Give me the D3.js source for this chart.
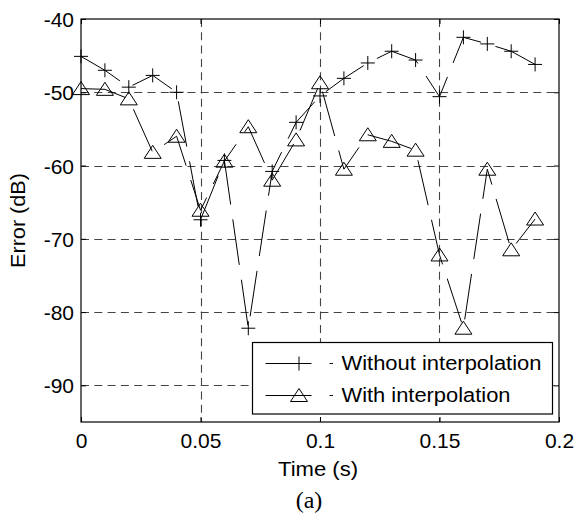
<!DOCTYPE html>
<html><head><meta charset="utf-8">
<script src="https://cdn.jsdelivr.net/npm/d3@7"></script>
<style>body{margin:0;background:#fff}svg{display:block}</style>
</head><body>
<script>
const times = [0,0.01,0.02,0.03,0.04,0.05,0.06,0.07,0.08,0.09,0.10,0.11,0.12,0.13,0.14,0.15,0.16,0.17,0.18,0.19];
const withoutInterp = [-45.1,-47.0,-49.3,-47.7,-50.0,-67.4,-59.3,-82.2,-60.8,-54.1,-50.5,-48.1,-46.0,-44.4,-45.6,-50.6,-42.5,-43.4,-44.4,-46.2];
const withInterp = [-49.5,-49.6,-50.9,-58.2,-56.0,-66.1,-59.4,-54.7,-62.0,-56.5,-48.7,-60.5,-55.8,-56.7,-57.9,-72.2,-82.2,-60.5,-71.5,-67.3];
const xTicks = [0,0.05,0.1,0.15,0.2];
const yTicks = [-40,-50,-60,-70,-80,-90];
const seriesNames = ["Without interpolation","With interpolation"];

const W=576,H=521;
const m={l:81,r:559,t:19,b:422};
const svg=d3.select("body").append("svg").attr("width",W).attr("height",H);
const x=d3.scaleLinear().domain([0,0.2]).range([m.l,m.r]);
const y=d3.scaleLinear().domain([-95,-40]).range([m.b,m.t]);
const font="'Liberation Sans', Arial, sans-serif";
const px=v=>Math.round(v)+0.5;

// grid
const g=svg.append("g");
g.selectAll("line.gx").data(xTicks.filter(d=>d>0&&d<0.2)).enter().append("line").attr("class","gx")
 .attr("x1",d=>px(x(d))).attr("x2",d=>px(x(d))).attr("y1",m.t).attr("y2",m.b)
 .attr("stroke","#444").attr("stroke-width",1.1).attr("stroke-dasharray","8,5.3");
g.selectAll("line.gy").data(yTicks.filter(d=>d<-40)).enter().append("line").attr("class","gy")
 .attr("y1",d=>px(y(d))).attr("y2",d=>px(y(d))).attr("x1",m.l).attr("x2",m.r)
 .attr("stroke","#444").attr("stroke-width",1.1).attr("stroke-dasharray","8,5.3");

// axes with inward ticks
const xa=d3.axisBottom(x).tickValues(xTicks).tickSizeInner(-5).tickSizeOuter(0).tickPadding(12).tickFormat(d=>String(+d.toFixed(2)));
const xg=svg.append("g").attr("transform",`translate(0,${m.b})`).call(xa);
const ya=d3.axisLeft(y).tickValues(yTicks).tickSizeInner(-5).tickSizeOuter(0).tickPadding(7).tickFormat(d=>String(d));
const yg=svg.append("g").attr("transform",`translate(${m.l},0)`).call(ya);
svg.append("g").attr("transform",`translate(0,${m.t})`).call(d3.axisTop(x).tickValues(xTicks).tickSizeInner(-5).tickSizeOuter(0).tickFormat(""));
svg.append("g").attr("transform",`translate(${m.r},0)`).call(d3.axisRight(y).tickValues(yTicks).tickSizeInner(-5).tickSizeOuter(0).tickFormat(""));
svg.selectAll(".domain").remove();
svg.selectAll(".tick line").attr("stroke","#000");
xg.selectAll("text").attr("font-family",font).attr("font-size",21).attr("fill","#000").attr("dy",null).attr("y",26);
yg.selectAll("text").attr("font-family",font).attr("font-size",21).attr("fill","#000").attr("dy","0.36em");
svg.append("rect").attr("x",m.l).attr("y",m.t).attr("width",m.r-m.l).attr("height",m.b-m.t)
 .attr("fill","none").attr("stroke","#000").attr("stroke-width",1.2);

// data
const dash="46,15";
const line=d3.line().x((d,i)=>x(times[i])).y(d=>y(d));
const plusPath=(cx,cy)=>`M${cx-7},${cy}H${cx+7}M${cx},${cy-7}V${cy+7}`;
const triPath=(cx,cy)=>`M${cx},${cy-7}L${cx+8.5},${cy+6}L${cx-8.5},${cy+6}Z`;
[[withoutInterp,plusPath],[withInterp,triPath]].forEach(([vals,mk])=>{
  svg.append("path").attr("d",line(vals)).attr("fill","none").attr("stroke","#000").attr("stroke-width",1).attr("stroke-dasharray",dash);
  svg.append("g").selectAll("path").data(vals).enter().append("path")
   .attr("d",(d,i)=>mk(x(times[i]),y(d))).attr("fill","none").attr("stroke","#000").attr("stroke-width",1);
});

// legend
const lg=svg.append("g");
lg.append("rect").attr("x",252.5).attr("y",342.5).attr("width",300).attr("height",71.5).attr("fill","#fff").attr("stroke","#000").attr("stroke-width",1.2);
[[363,plusPath],[395,triPath]].forEach(([ly,mk],i)=>{
  lg.append("line").attr("x1",265.5).attr("x2",333).attr("y1",ly+0.5).attr("y2",ly+0.5).attr("stroke","#000").attr("stroke-width",1).attr("stroke-dasharray","46,18");
  lg.append("path").attr("d",mk(299,ly+0.5)).attr("fill","none").attr("stroke","#000");
  lg.append("text").attr("x",341.5).attr("y",ly+7).attr("font-family",font).attr("font-size",19.5)
   .attr("textLength",i===0?200:169).attr("lengthAdjust","spacingAndGlyphs").text(seriesNames[i]);
});

// labels
svg.append("text").attr("x",318).attr("y",476).attr("text-anchor","middle").attr("font-family",font).attr("font-size",20)
 .attr("textLength",80).attr("lengthAdjust","spacingAndGlyphs").text("Time (s)");
svg.append("text").attr("transform","translate(25,220.5) rotate(-90)").attr("text-anchor","middle").attr("font-family",font).attr("font-size",19.5)
 .attr("textLength",95).attr("lengthAdjust","spacingAndGlyphs").text("Error (dB)");
svg.append("text").attr("x",309).attr("y",508).attr("text-anchor","middle").attr("font-family","'Liberation Serif','Times New Roman',serif").attr("font-size",24).text("(a)");
</script>
</body></html>
